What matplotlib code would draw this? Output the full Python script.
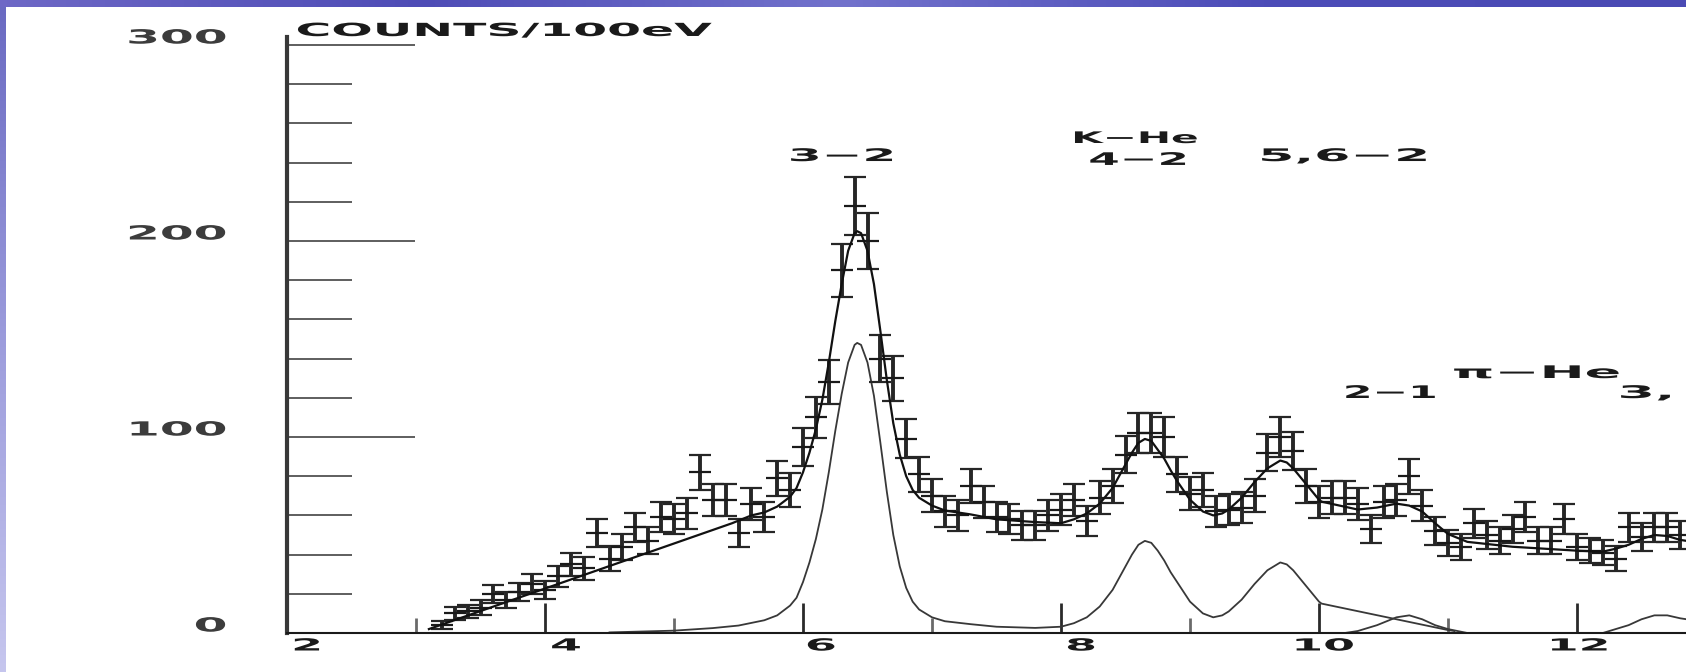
import numpy as np
import matplotlib
matplotlib.use("Agg")
import matplotlib.pyplot as plt
from matplotlib.patheffects import AbstractPathEffect
from matplotlib.transforms import Affine2D, ScaledTranslation
from matplotlib.ticker import MultipleLocator
from matplotlib.colors import LinearSegmentedColormap

# ---------------------------------------------------------------- data
# Measured spectrum: bin centres (keV) and counts per 100 eV
ENERGY_KEV = [3.2, 3.3, 3.4, 3.5, 3.6, 3.7, 3.8, 3.9, 4.0, 4.1,
              4.2, 4.3, 4.4, 4.5, 4.6, 4.7, 4.8, 4.9, 5.0, 5.1,
              5.2, 5.3, 5.4, 5.5, 5.6, 5.7, 5.8, 5.9, 6.0, 6.1,
              6.2, 6.3, 6.4, 6.5, 6.6, 6.7, 6.8, 6.9, 7.0, 7.1,
              7.2, 7.3, 7.4, 7.5, 7.6, 7.7, 7.8, 7.9, 8.0, 8.1,
              8.2, 8.3, 8.4, 8.5, 8.6, 8.7, 8.8, 8.9, 9.0, 9.1,
              9.2, 9.3, 9.4, 9.5, 9.6, 9.7, 9.8, 9.9, 10.0, 10.1,
              10.2, 10.3, 10.4, 10.5, 10.6, 10.7, 10.8, 10.9, 11.0, 11.1,
              11.2, 11.3, 11.4, 11.5, 11.6, 11.7, 11.8, 11.9, 12.0, 12.1,
              12.2, 12.3, 12.4, 12.5, 12.6, 12.7, 12.8]
COUNTS = [4, 10, 11, 13, 20, 17, 21, 25, 22, 29,
          35, 33, 51, 38, 44, 54, 47, 59, 58, 61,
          82, 68, 68, 51, 66, 59, 79, 73, 95, 110,
          128, 185, 218, 200, 140, 130, 99, 81, 70, 62,
          60, 75, 67, 59, 58, 55, 55, 60, 63, 68,
          57, 69, 75, 91, 102, 102, 100, 81, 71, 73,
          62, 63, 64, 70, 92, 100, 93, 75, 67, 69,
          69, 66, 53, 67, 68, 80, 65, 52, 46, 44,
          56, 50, 47, 53, 59, 47, 47, 58, 44, 42,
          41, 38, 54, 49, 54, 54, 50]

# Total fit (background + lines)
FIT_KEV = [3.1, 5.45, 5.6, 5.7, 5.8, 5.9, 5.95, 6.0, 6.05, 6.1,
           6.15, 6.2, 6.25, 6.3, 6.35, 6.4, 6.42, 6.45, 6.5, 6.55,
           6.6, 6.65, 6.7, 6.75, 6.8, 6.85, 6.9, 7.0, 7.1, 7.3,
           7.5, 7.8, 8.0, 8.1, 8.2, 8.3, 8.4, 8.45, 8.5, 8.55,
           8.6, 8.65, 8.7, 8.75, 8.8, 8.85, 8.9, 9.0, 9.1, 9.18,
           9.25, 9.3, 9.4, 9.5, 9.6, 9.7, 9.75, 9.8, 9.9, 10.0,
           10.02, 10.3, 10.45, 10.6, 10.7, 10.8, 10.9, 11.0, 11.15, 11.5,
           12.0, 12.2, 12.3, 12.4, 12.5, 12.6, 12.7, 12.8, 12.85]
FIT_COUNTS = [2, 56, 60, 61.5, 64.5, 69.5, 74, 82, 92, 104,
              119, 138, 159, 178, 195, 204, 205, 204, 195, 178,
              154, 129, 107, 91, 80, 73, 69, 65, 62.5, 60.5,
              58, 56.6, 56, 58, 61, 66, 74, 80, 86, 92,
              97, 99, 98, 93.5, 89, 83, 77.5, 68, 62, 60,
              61, 63, 69, 77, 84, 88, 87, 84, 76, 68,
              67, 63, 64, 66, 65, 62, 56, 50.5, 46.5, 44,
              42, 41.5, 43, 45, 48, 50, 49.5, 47.5, 47]

# K-He line components (3-2, 4-2, 5,6-2)
KHE_KEV = [4.5, 5.0, 5.3, 5.5, 5.7, 5.8, 5.9, 5.95, 6.0, 6.05,
           6.1, 6.15, 6.2, 6.25, 6.3, 6.35, 6.4, 6.42, 6.45, 6.5,
           6.55, 6.6, 6.65, 6.7, 6.75, 6.8, 6.85, 6.9, 7.0, 7.1,
           7.3, 7.5, 7.8, 8.0, 8.1, 8.2, 8.3, 8.4, 8.45, 8.5,
           8.55, 8.6, 8.65, 8.7, 8.75, 8.8, 8.85, 8.9, 9.0, 9.1,
           9.18, 9.25, 9.3, 9.4, 9.5, 9.6, 9.7, 9.75, 9.8, 9.9,
           10.0, 10.02, 11.0, 11.05]
KHE_COUNTS = [0.3, 1.2, 2.5, 3.8, 6.5, 9, 14, 18, 26, 36,
              48, 63, 82, 103, 122, 138, 147, 148, 147, 138,
              121, 97, 72, 50, 34, 23, 16, 12, 8, 6,
              4.5, 3.2, 2.6, 3.2, 5, 8, 13.5, 22, 28, 34,
              40, 45, 47, 46, 42, 37, 31, 26, 16, 10,
              8, 9, 11, 17, 25, 32, 36, 35, 32, 24,
              16, 15, 1.5, 1]

# pi-He line components (2-1, 3-1)
PIHE_KEV = [10.2, 10.3, 10.45, 10.6, 10.7, 10.8, 10.9, 11.0, 11.15,
            12.2, 12.3, 12.4, 12.5, 12.6, 12.7, 12.8, 12.85]
PIHE_COUNTS = [0, 1, 4, 8, 9, 7, 4, 2, 0,
               0, 2, 4, 7, 9, 9, 7.5, 7]

X_TICKS = [2, 4, 6, 8, 10, 12]
Y_TICKS = [0, 100, 200, 300]
Y_UNIT = "COUNTS/100eV"
LINE_LABELS = ["3\u22122", "K\u2212He", "4\u22122", "5,6\u22122",
               "\u03c0\u2212He", "2\u22121", "3,"]


# ---------------------------------------------------------------- helpers
class Stretch(AbstractPathEffect):
    """Widen glyphs horizontally, like the broad lettering of a pen plotter."""

    def __init__(self, factor, anchor="center"):
        super().__init__()
        self.factor = factor
        self.anchor = anchor

    def draw_path(self, renderer, gc, tpath, affine, rgbFace=None):
        ext = tpath.get_extents()
        if self.anchor == "left":
            cx = ext.x0
        elif self.anchor == "right":
            cx = ext.x1
        else:
            cx = 0.5 * (ext.x0 + ext.x1)
        widen = Affine2D().translate(-cx, 0).scale(self.factor, 1).translate(cx, 0)
        renderer.draw_path(gc, tpath, widen + affine, rgbFace)


INK = "#1a1a1a"
W, H = 1686, 672
fig = plt.figure(figsize=(W / 100, H / 100), dpi=100)
fig.patch.set_facecolor("white")

# blue slide frame along the top and left edges
cm_top = LinearSegmentedColormap.from_list(
    "top", ["#6e68c6", "#4e4cb6", "#7272cc", "#4c4cb8", "#4a4ab4"])
band = fig.add_axes([0, 1 - 7 / H, 1, 7 / H])
band.imshow(np.linspace(0, 1, 256)[None, :], cmap=cm_top, aspect="auto")
band.set_axis_off()
cm_side = LinearSegmentedColormap.from_list("side", ["#6a6ac2", "#9c9cdc", "#c6c6ee"])
side = fig.add_axes([0, 0, 6 / W, 1 - 7 / H])
side.imshow(np.linspace(0, 1, 256)[:, None], cmap=cm_side, aspect="auto")
side.set_axis_off()

# plotting area: x=2 keV at px 287, 129 px per keV; y=0 at px 633, 1.96 px per count
X0, X1, Y0, Y1 = 287, 1686, 633, 37
ax = fig.add_axes([X0 / W, 1 - Y0 / H, (X1 - X0) / W, (Y0 - Y1) / H])
ax.set_xlim(2, 2 + (X1 - X0) / 129)
ax.set_ylim(0, (Y0 - Y1) / 1.96)
ax.set_facecolor("none")

for s in ("top", "right"):
    ax.spines[s].set_visible(False)
ax.spines["left"].set_linewidth(3.0)
ax.spines["left"].set_color("#383838")
ax.spines["bottom"].set_linewidth(1.5)
ax.spines["bottom"].set_color(INK)

# spectrum with counting errors
counts = np.asarray(COUNTS, dtype=float)
ax.errorbar(ENERGY_KEV, counts, yerr=np.sqrt(counts), fmt="none",
            ecolor="#262626", elinewidth=2.8, capsize=8, capthick=1.6, zorder=3)
ax.plot(ENERGY_KEV, counts, ls="none", marker="_", ms=16, mew=1.6,
        color=INK, zorder=4)

# fit curves
ax.plot(FIT_KEV, FIT_COUNTS, color="#111111", lw=1.6, zorder=5)
ax.plot(KHE_KEV, KHE_COUNTS, color="#383838", lw=1.3, zorder=2)
ax.plot(PIHE_KEV, PIHE_COUNTS, color="#383838", lw=1.3, zorder=2)

# ticks
ax.set_xticks(X_TICKS, labels=[str(v) for v in X_TICKS])
ax.xaxis.set_minor_locator(MultipleLocator(1))
ax.set_yticks(Y_TICKS, labels=[str(v) for v in Y_TICKS])
ax.yaxis.set_minor_locator(MultipleLocator(20))
ax.tick_params(axis="x", which="major", direction="in", length=21.6, width=2.0,
               color="#2a2a2a", pad=9, labelsize=12, labelcolor=INK)
ax.tick_params(axis="x", which="minor", direction="in", length=10.8, width=2.0,
               color="#6a6a6a")
ax.tick_params(axis="y", which="major", direction="in", length=92, width=1.1,
               color="#333333", pad=44, labelsize=14, labelcolor="#3c3c3c")
ax.tick_params(axis="y", which="minor", direction="in", length=47, width=1.1,
               color="#333333")

fig.canvas.draw()
x_shift_px = [20, 21, 18, 20, 5, 2]
for tick, dx in zip(ax.xaxis.get_major_ticks(), x_shift_px):
    lab = tick.label1
    lab.set_va("center")
    lab.set_fontweight("bold")
    lab.set_path_effects([Stretch(2.75, "center")])
    lab.set_transform(lab.get_transform()
                      + ScaledTranslation(dx / 100, 0, fig.dpi_scale_trans))
for tick in ax.yaxis.get_major_ticks():
    lab = tick.label1
    lab.set_fontweight("bold")
    lab.set_path_effects([Stretch(2.5, "right")])
    lab.set_transform(lab.get_transform()
                      + ScaledTranslation(0, 9 / 100, fig.dpi_scale_trans))


def label(x, y, text, factor, size=12.5, ha="center"):
    t = ax.text(x, y, text, ha=ha, va="baseline", fontsize=size,
                fontweight="bold", color=INK, clip_on=False, zorder=6)
    t.set_path_effects([Stretch(factor, ha)])
    return t


label(2.078, 304.6, Y_UNIT, 2.7, size=13, ha="left")
label(6.30, 240.8, LINE_LABELS[0], 2.8)
label(8.578, 250.0, LINE_LABELS[1], 2.55, size=11.5)
label(8.597, 238.8, LINE_LABELS[2], 2.6)
label(10.194, 240.8, LINE_LABELS[3], 3.0)
label(11.686, 130.1, LINE_LABELS[4], 3.1)
label(10.554, 119.9, LINE_LABELS[5], 2.45)
label(12.333, 119.9, LINE_LABELS[6], 3.1, ha="left")

fig.savefig("out.png", dpi=100, facecolor="white")
